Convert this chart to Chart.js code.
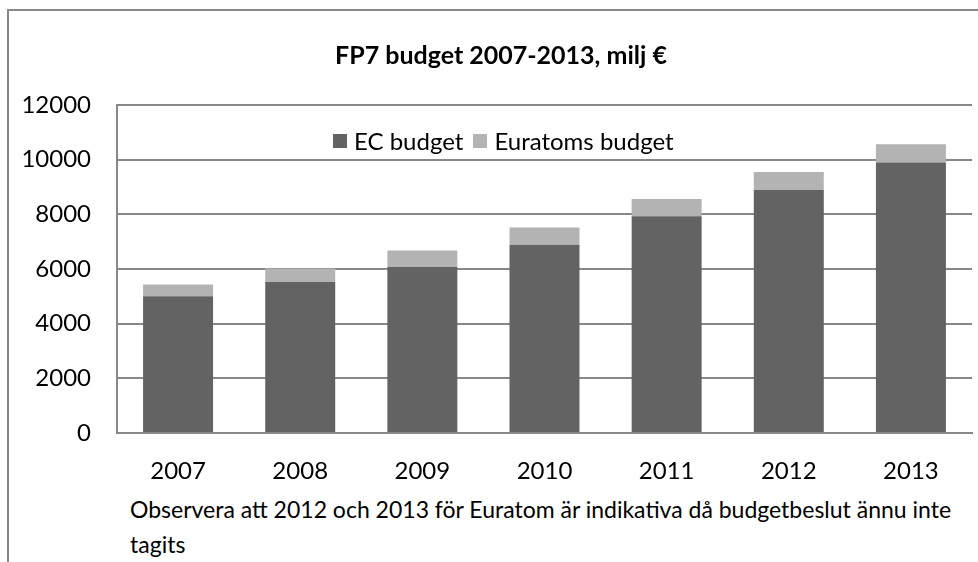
<!DOCTYPE html>
<html lang="sv">
<head>
<meta charset="utf-8">
<title>FP7 budget 2007-2013</title>
<script src="https://cdn.jsdelivr.net/npm/chart.js@4.4.1/dist/chart.umd.min.js"></script>
<style>
    html, body {
        margin: 0;
        padding: 0;
        width: 978px;
        height: 562px;
        overflow: hidden;
        background: #fff;
        font-family: Lato, 'Open Sans', sans-serif;
    }
    .frame {
        position: absolute;
        left: 7px;
        top: 9px;
        width: 2000px;
        height: 2000px;
        border: 2px solid #888;
    }
    .chart-box {
        position: absolute;
        left: 0;
        top: 0;
        width: 978px;
        height: 490px;
    }
    .legend {
        position: absolute;
        left: 333px;
        top: 127px;
        height: 28px;
        display: flex;
        align-items: center;
        font-size: 24px;
        line-height: 28px;
        color: #000;
        white-space: nowrap;
    }
    .legend-item {
        display: flex;
        align-items: center;
        margin-right: 10px;
    }
    .legend-box {
        width: 14px;
        height: 14px;
        margin-right: 7px;
    }
    .note {
        position: absolute;
        left: 130px;
        top: 492px;
        font-size: 23px;
        line-height: 35px;
        color: #000;
        white-space: nowrap;
    }
</style>
</head>
<body>
<div class="frame"></div>
<div class="chart-box"><canvas id="budgetChart"></canvas></div>
<div class="legend" id="budgetLegend"></div>
<div class="note">Observera att 2012 och 2013 för Euratom är indikativa då budgetbeslut ännu inte<br>tagits</div>
<script>
(function () {
    'use strict';

    const years = ['2007', '2008', '2009', '2010', '2011', '2012', '2013'];
    const ecBudget = [5000, 5520, 6070, 6890, 7930, 8890, 9900];
    const euratomBudget = [430, 500, 610, 630, 630, 660, 660];
    const yTicks = [0, 2000, 4000, 6000, 8000, 10000, 12000];

    const fontFamily = 'Lato, "Open Sans", sans-serif';
    const gridColor = '#888888';

    // title in the original is centred a bit right of the canvas middle
    const titleShift = {
        id: 'titleShift',
        afterLayout(chart) {
            const title = chart.titleBlock;
            if (!title) {
                return;
            }
            title.left += 15;
            title.right += 15;
        }
    };

    const chart = new Chart(document.getElementById('budgetChart'), {
        type: 'bar',
        data: {
            labels: years,
            datasets: [
                {
                    label: 'EC budget',
                    data: ecBudget,
                    backgroundColor: '#636363',
                    borderWidth: 0
                },
                {
                    label: 'Euratoms budget',
                    data: euratomBudget,
                    backgroundColor: '#b3b3b3',
                    borderWidth: 0
                }
            ]
        },
        options: {
            responsive: true,
            maintainAspectRatio: false,
            animation: false,
            layout: { padding: { left: 0, right: 6, top: 0, bottom: 0 } },
            datasets: {
                bar: { categoryPercentage: 1, barPercentage: 0.573 }
            },
            plugins: {
                title: {
                    display: true,
                    text: 'FP7 budget 2007-2013, milj €',
                    color: '#000',
                    font: { family: fontFamily, size: 25, weight: 'bold', lineHeight: 1.2 },
                    padding: { top: 41, bottom: 34 }
                },
                legend: { display: false },
                tooltip: { enabled: false }
            },
            scales: {
                x: {
                    stacked: true,
                    grid: { display: false, drawTicks: false },
                    border: { display: true, color: gridColor, width: 2 },
                    ticks: {
                        color: '#000',
                        font: { family: fontFamily, size: 24 },
                        padding: 24
                    },
                    afterFit(scale) {
                        scale.height = 57;
                    }
                },
                y: {
                    stacked: true,
                    min: yTicks[0],
                    max: yTicks[yTicks.length - 1],
                    grid: { color: gridColor, lineWidth: 2, drawTicks: false },
                    border: { display: true, color: gridColor, width: 2 },
                    ticks: {
                        stepSize: yTicks[1] - yTicks[0],
                        color: '#000',
                        font: { family: fontFamily, size: 24 },
                        padding: 26,
                        callback: (value) => String(value)
                    },
                    afterFit(scale) {
                        scale.width = 117;
                    }
                }
            }
        },
        plugins: [titleShift]
    });

    // legend sits inside the plot area in the original, so it is built as html
    const legendEl = document.getElementById('budgetLegend');
    Chart.defaults.plugins.legend.labels.generateLabels(chart).forEach((item) => {
        const entry = document.createElement('span');
        entry.className = 'legend-item';
        const box = document.createElement('span');
        box.className = 'legend-box';
        box.style.background = item.fillStyle;
        const text = document.createElement('span');
        text.textContent = item.text;
        entry.appendChild(box);
        entry.appendChild(text);
        legendEl.appendChild(entry);
    });
})();
</script>
</body>
</html>
